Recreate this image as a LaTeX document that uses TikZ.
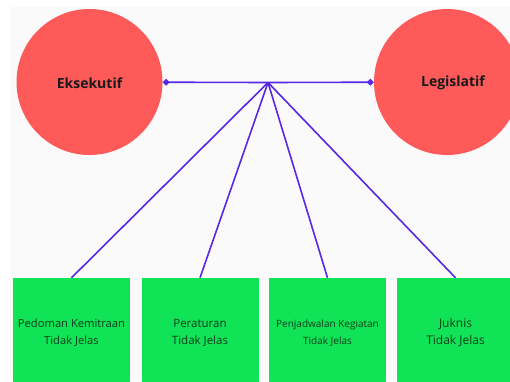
\documentclass[tikz,border=0pt]{standalone}
\usepackage{fontspec}
\setmainfont{Open Sans}
\usepackage{tikz}
\usetikzlibrary{arrows.meta,shapes}
\definecolor{bubblered}{RGB}{255,90,90}
\definecolor{boxgreen}{RGB}{16,227,86}
\definecolor{linkblue}{RGB}{88,40,228}
\definecolor{paper}{RGB}{250,250,250}
\definecolor{inkgreen}{RGB}{18,62,30}
\tikzstyle{actor}=[circle, fill=bubblered, draw=none, minimum size=146pt, inner sep=0pt]
\tikzstyle{actorname}=[font=\bfseries\fontsize{14}{16}\selectfont, text=black!90]
\tikzstyle{issue}=[rectangle, fill=boxgreen, draw=none, minimum width=117pt, minimum height=117pt, inner sep=0pt]
\tikzstyle{issuename}=[align=center, text=inkgreen]
\tikzstyle{edge} = [draw=linkblue,line width=1.6pt,-]
\tikzstyle{tie} = [draw=linkblue,line width=1.6pt,-{Diamond[length=7pt,width=7pt]}]

\begin{document}
\begin{tikzpicture}[x=1pt,y=-1pt]
		\useasboundingbox (0,0) rectangle (510,381);
		\clip (0,0) rectangle (510,381);
		\fill[paper] (10,7) rectangle (510,381);
		
		% First we draw the two actors
		\node[actor] (eks) at (89.5,82) {};
		\node[actor] (leg) at (447,82) {};
		\node[actorname] (ekslbl) at (89.5,83) {Eksekutif};
		\node[actorname] (leglbl) at (453,83) {Legislatif};
		\coordinate (hub) at (268,82.5);
		
		% then the four issues
		\foreach \x/\label/\size/\name in {
			71.5/a/11.2/{Pedoman Kemitraan\\Tidak Jelas},
			200/b/11.5/{Peraturan\\Tidak Jelas},
			327.5/c/10/{Penjadwalan Kegiatan\\Tidak Jelas},
			455.5/d/12/{Juknis\\Tidak Jelas}}
		{
		\node[issue] (\label) at (\x,336.5) {};
		\node[issuename, font=\fontsize{\size}{17}\selectfont] (\label txt) at (\x,333) {\name};
		}
		
		% Connect everything to the hub
		\path[tie] (hub) -- (eks);
		\path[tie] (hub) -- (leg);
		\foreach \dest in {a, b, c, d}
		\path[edge] (hub) -- (\dest.north);
\end{tikzpicture}
\end{document}
